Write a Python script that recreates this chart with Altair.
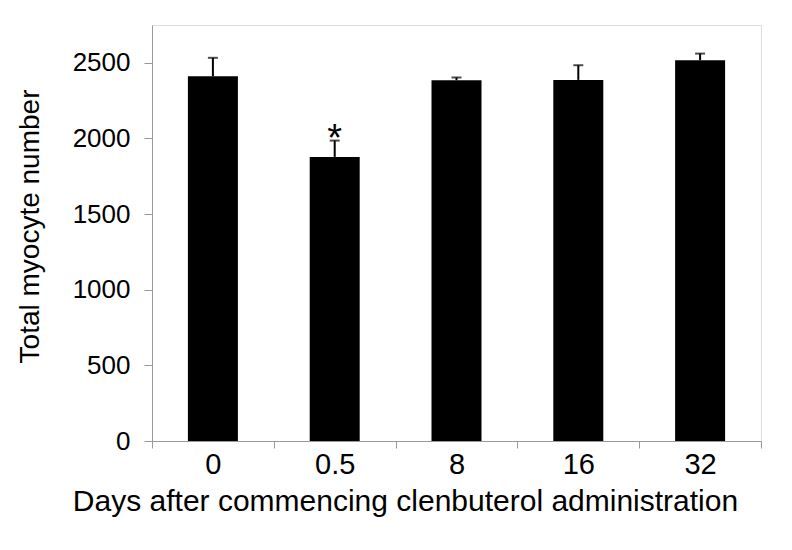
import altair as alt
import pandas as pd

days = ["0", "0.5", "8", "16", "32"]
means = [2411, 1878, 2385, 2387, 2517]
sems = [122, 108, 18, 97, 44]
marks = ["", "*", "", "", ""]

df = pd.DataFrame({
    "day": days,
    "mean": means,
    "upper": [m + s for m, s in zip(means, sems)],
    "mark": marks,
})

FONT = "Liberation Sans"

x = alt.X("day:N", sort=days,
          scale=alt.Scale(paddingInner=0, paddingOuter=0),
          axis=alt.Axis(title="Days after commencing clenbuterol administration",
                        labelAngle=0, labelFontSize=29, labelFont=FONT, labelColor="black",
                        labelPadding=2, tickBand="extent", tickSize=7, tickColor="#999",
                        domainColor="#999", titleFont=FONT, titleFontSize=30,
                        titleFontWeight="normal", titleColor="black",
                        titleX=253, titleY=69, titleAlign="center",
                        titleBaseline="alphabetic", titleAnchor="start"))

y_scale = alt.Scale(domain=[0, 2750], nice=False)

bars = alt.Chart(df).mark_bar(color="black", size=50).encode(
    x=x,
    y=alt.Y("mean:Q", scale=y_scale,
            axis=alt.Axis(title="Total myocyte number", values=[0, 500, 1000, 1500, 2000, 2500],
                          format="d", grid=False, labelFontSize=26, labelFont=FONT,
                          labelColor="black", labelPadding=14, tickSize=8, tickColor="#999",
                          domainColor="#999", titleFont=FONT, titleFontSize=28,
                          titleFontWeight="normal", titleColor="black", titleX=-114,
                          titleY=201, titleAngle=-90, titleAlign="center",
                          titleBaseline="alphabetic", titleAnchor="start")),
)

err = alt.Chart(df).mark_rule(color="black", strokeWidth=2).encode(
    x=alt.X("day:N", sort=days),
    y=alt.Y("mean:Q", scale=y_scale),
    y2="upper:Q",
)

caps = alt.Chart(df).mark_tick(color="black", thickness=2, size=10).encode(
    x=alt.X("day:N", sort=days),
    y=alt.Y("upper:Q", scale=y_scale),
)

star = alt.Chart(df).mark_text(fontSize=38, font=FONT, baseline="alphabetic", dy=10,
                               color="black").encode(
    x=alt.X("day:N", sort=days),
    y=alt.Y("upper:Q", scale=y_scale),
    text="mark:N",
)

chart = alt.layer(bars, err, caps, star).properties(
    width=609, height=416,
    autosize=alt.AutoSizeParams(type="none"),
    padding={"left": 144, "top": 17, "right": 23, "bottom": 101},
).configure_view(stroke=None).configure(background="white")

chart.save("out.html", embed_options={"renderer": "svg", "actions": False})
